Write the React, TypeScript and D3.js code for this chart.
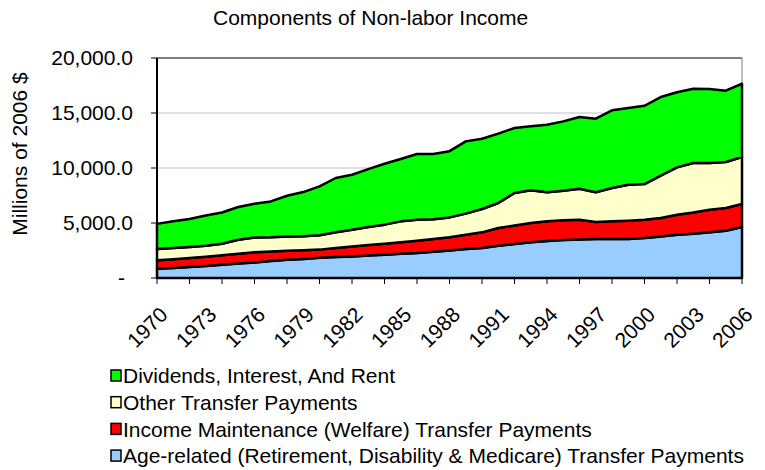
import React from "react";
import * as d3 from "d3";

const years = [1970, 1971, 1972, 1973, 1974, 1975, 1976, 1977, 1978, 1979, 1980, 1981, 1982, 1983, 1984, 1985, 1986, 1987, 1988, 1989, 1990, 1991, 1992, 1993, 1994, 1995, 1996, 1997, 1998, 1999, 2000, 2001, 2002, 2003, 2004, 2005, 2006];

const ageRelated = [850, 910, 1000, 1100, 1210, 1310, 1420, 1540, 1660, 1730, 1830, 1900, 1960, 2040, 2120, 2200, 2270, 2390, 2510, 2630, 2730, 2940, 3090, 3240, 3360, 3450, 3510, 3540, 3540, 3540, 3630, 3780, 3940, 4030, 4150, 4300, 4640];
const incomeMaintenance = [770, 800, 810, 830, 850, 890, 910, 860, 820, 800, 750, 830, 910, 960, 1000, 1050, 1120, 1160, 1190, 1310, 1420, 1600, 1690, 1760, 1790, 1790, 1790, 1550, 1610, 1670, 1670, 1670, 1810, 1930, 2060, 2060, 2090];
const otherTransfers = [1020, 1020, 1010, 1010, 1060, 1280, 1360, 1300, 1300, 1270, 1300, 1420, 1520, 1640, 1730, 1900, 1910, 1800, 1810, 1910, 2120, 2280, 2950, 2970, 2640, 2700, 2820, 2700, 3030, 3270, 3240, 3850, 4310, 4490, 4240, 4180, 4270];
const dividends = [2280, 2420, 2540, 2750, 2840, 2970, 3060, 3260, 3700, 4010, 4450, 4940, 5000, 5260, 5540, 5670, 5970, 5920, 6020, 6570, 6390, 6300, 5910, 5820, 6150, 6300, 6520, 6690, 7060, 6970, 7120, 7150, 6820, 6760, 6730, 6490, 6660];

const seriesKeys = ["age", "welfare", "other", "div"];
const seriesNames = [
  "Age-related (Retirement, Disability & Medicare) Transfer Payments",
  "Income Maintenance (Welfare) Transfer Payments",
  "Other Transfer Payments",
  "Dividends, Interest, And Rent",
];
const seriesColors = ["#99CCFF", "#FF0000", "#FFFFCC", "#00FF00"];

const yTicks = [0, 5000, 10000, 15000, 20000];
const xTickYears = [1970, 1972, 1974, 1976, 1978, 1980, 1982, 1984, 1986, 1988, 1990, 1992, 1994, 1996, 1998, 2000, 2002, 2004, 2006];
const xLabelYears = [1970, 1973, 1976, 1979, 1982, 1985, 1988, 1991, 1994, 1997, 2000, 2003, 2006];

const title = "Components of Non-labor Income";
const yTitle = "Millions of 2006 $";

const FONT = "'Liberation Sans', Arial, sans-serif";

export default function App() {
  const width = 765;
  const height = 470;
  const left = 157, right = 742, top = 58, bottom = 278;

  const x = d3.scaleLinear().domain([1970, 2006]).range([left, right]);
  const y = d3.scaleLinear().domain([0, 20000]).range([bottom, top]);

  const rows = years.map((yr, i) => ({
    year: yr,
    age: ageRelated[i],
    welfare: incomeMaintenance[i],
    other: otherTransfers[i],
    div: dividends[i],
  }));
  const stacked = d3.stack<any>().keys(seriesKeys)(rows);
  const area = d3
    .area<any>()
    .x((d: any) => x(d.data.year))
    .y0((d: any) => y(d[0]))
    .y1((d: any) => y(d[1]));

  const fmt = (v: number) => (v === 0 ? "-" : d3.format(",.1f")(v));
  const fs = 21;

  const legendOrder = [3, 2, 1, 0];

  return (
    <svg
      width={width}
      height={height}
      style={{ position: "absolute", left: 0, top: 0, background: "#fff" }}
      fontFamily={FONT}
    >
      <rect x={0} y={0} width={width} height={height} fill="#fff" />
      <text x={213} y={25} fontSize={fs} textAnchor="start" fill="#000">
        {title}
      </text>

      {/* gridlines */}
      {yTicks.filter((t) => t > 0 && t < 20000).map((t) => (
        <line key={t} x1={left} x2={right} y1={y(t)} y2={y(t)} stroke="#C0C0C0" strokeWidth={1} />
      ))}
      <line x1={left} x2={right} y1={top} y2={top} stroke="#000" strokeWidth={1} />
      <line x1={right} x2={right} y1={top} y2={bottom} stroke="#808080" strokeWidth={1} />

      {/* areas */}
      {stacked.map((s: any, i: number) => (
        <path
          key={s.key}
          d={area(s) as string}
          fill={seriesColors[i]}
          stroke="#000"
          strokeWidth={2.5}
          strokeLinejoin="round"
        />
      ))}

      {/* axes */}
      <line x1={left} x2={left} y1={top} y2={bottom} stroke="#000" strokeWidth={2} />
      <line x1={left} x2={right} y1={bottom} y2={bottom} stroke="#000" strokeWidth={2} />
      {yTicks.map((t) => (
        <g key={t}>
          <line x1={left - 6} x2={left} y1={y(t)} y2={y(t)} stroke="#000" strokeWidth={1} />
          <text x={t === 0 ? 125 : 133} y={y(t)} dy="0.35em" fontSize={fs} textAnchor="end" fill="#000">
            {fmt(t)}
          </text>
        </g>
      ))}
      {xTickYears.map((yr) => (
        <line key={yr} x1={x(yr)} x2={x(yr)} y1={bottom} y2={bottom + 6} stroke="#000" strokeWidth={1} />
      ))}
      {xLabelYears.map((yr) => (
        <text
          key={yr}
          transform={`translate(${x(yr) + 12},${bottom + 38}) rotate(-45)`}
          fontSize={fs}
          textAnchor="end"
          fill="#000"
        >
          {yr}
        </text>
      ))}

      <text
        transform={`translate(27,154) rotate(-90)`}
        fontSize={fs}
        textAnchor="middle"
        fill="#000"
      >
        {yTitle}
      </text>

      {/* legend */}
      {legendOrder.map((si, row) => {
        const ly = 376 + row * 26.7;
        return (
          <g key={si}>
            <rect x={111} y={ly - 6} width={10} height={11} fill={seriesColors[si]} stroke="#000" strokeWidth={1.5} />
            <text x={123} y={ly} dy="0.35em" fontSize={fs} fill="#000">
              {seriesNames[si]}
            </text>
          </g>
        );
      })}
    </svg>
  );
}
